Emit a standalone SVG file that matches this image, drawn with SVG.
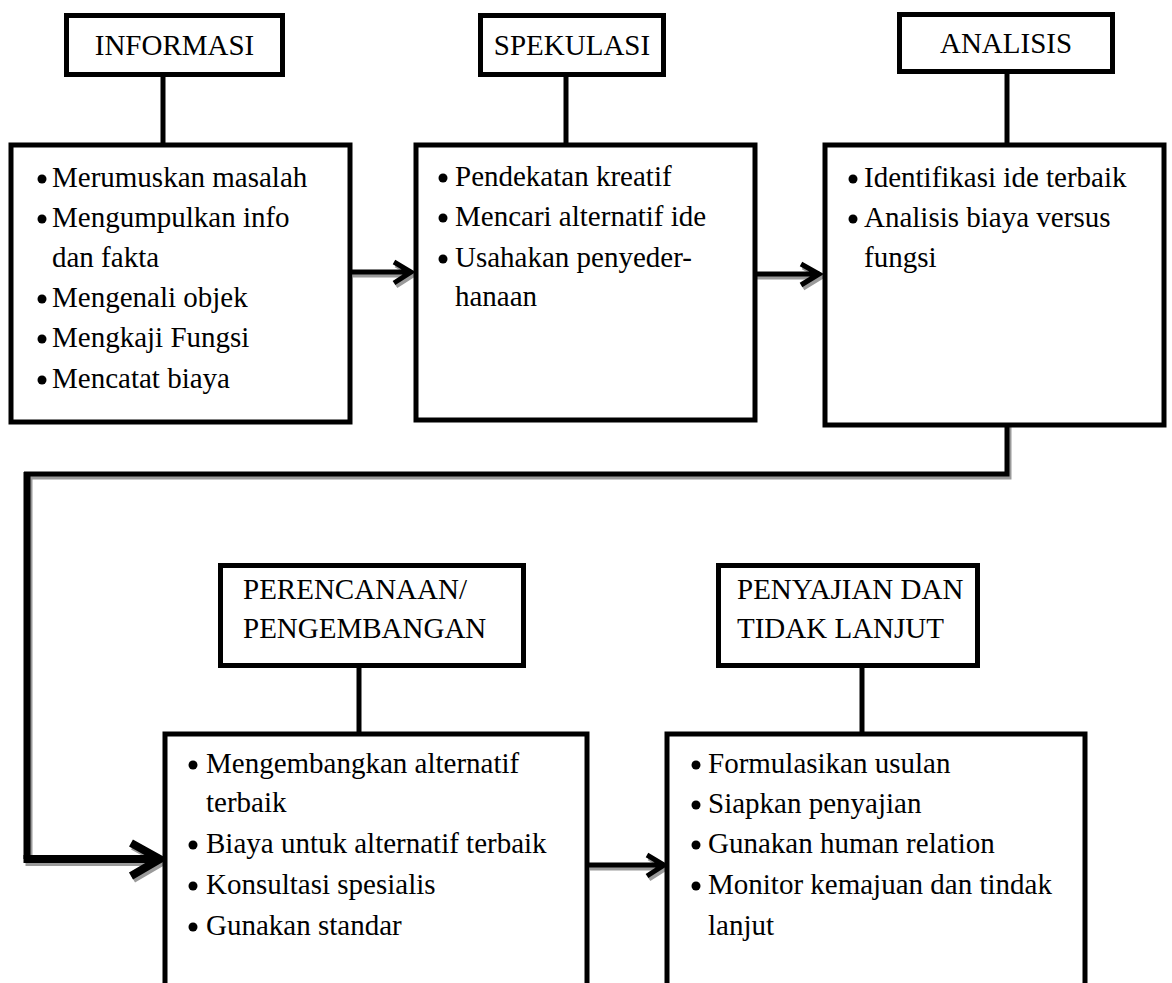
<svg xmlns="http://www.w3.org/2000/svg" width="1172" height="983" viewBox="0 0 1172 983">
<style>
.box{fill:#fff;stroke:#000;stroke-width:5}
.t{font-family:"Liberation Serif","Times New Roman",serif;font-size:29px;fill:#000}
.c{text-anchor:middle}
.ln{fill:none;stroke:#000;stroke-width:5}
.sh{fill:none;stroke:#9a9a9a;stroke-width:5}
.thk{stroke-width:8}
.mid{stroke-width:7}
</style>
<rect width="1172" height="983" fill="#fff"/>
<g id="connectors">
  <line class="ln" x1="163" y1="75" x2="163" y2="145"/>
  <line class="ln" x1="566" y1="75" x2="566" y2="145"/>
  <line class="ln" x1="1007" y1="71" x2="1007" y2="145"/>
  <line class="ln" x1="359" y1="666" x2="359" y2="734"/>
  <line class="ln" x1="862" y1="666" x2="862" y2="734"/>
  <g transform="translate(2,3)">
    <path class="sh" d="M351 272 H410 M394 262 L411 272 L394 283"/>
    <path class="sh" d="M755 274 H820 M801 264 L819 274 L801 285"/>
    <path class="sh" d="M1007 423 V474 H27"/>
    <path class="sh mid" d="M27 474 V859"/>
    <path class="sh thk" d="M23.5 859 H158 M131 843 L160 859 L131 876"/>
    <path class="sh" d="M588 865 H662 M647 855 L664 865 L647 876"/>
  </g>
  <path class="ln" d="M351 272 H410 M394 262 L411 272 L394 283"/>
  <path class="ln" d="M755 274 H820 M801 264 L819 274 L801 285"/>
  <path class="ln" d="M1007 423 V474 H24"/>
  <path class="ln mid" d="M27 472 V859"/>
  <path class="ln thk" d="M23.5 859 H158"/>
  <path class="ln thk" d="M131 843 L160 859 L131 876"/>
  <path class="ln" d="M588 865 H662 M647 855 L664 865 L647 876"/>
</g>
<g id="informasi-header">
  <rect class="box" x="66.5" y="15.5" width="216" height="59"/>
  <text class="t c" x="174.5" y="55">INFORMASI</text>
</g>
<g id="informasi">
  <rect class="box" x="11" y="145" width="339" height="277"/>
  <circle cx="42" cy="179" r="4.5"/><text class="t" x="52" y="187">Merumuskan masalah</text>
  <circle cx="42" cy="219" r="4.5"/><text class="t" x="52" y="227">Mengumpulkan info</text>
  <text class="t" x="52" y="267">dan fakta</text>
  <circle cx="42" cy="299" r="4.5"/><text class="t" x="52" y="307">Mengenali objek</text>
  <circle cx="42" cy="339" r="4.5"/><text class="t" x="52" y="347">Mengkaji Fungsi</text>
  <circle cx="42" cy="380" r="4.5"/><text class="t" x="52" y="388">Mencatat biaya</text>
</g>
<g id="spekulasi-header">
  <rect class="box" x="480.5" y="15.5" width="183" height="59"/>
  <text class="t c" x="572" y="55">SPEKULASI</text>
</g>
<g id="spekulasi">
  <rect class="box" x="416" y="145" width="339" height="275"/>
  <circle cx="443" cy="178" r="4.5"/><text class="t" x="455" y="186">Pendekatan kreatif</text>
  <circle cx="443" cy="218" r="4.5"/><text class="t" x="455" y="226">Mencari alternatif ide</text>
  <circle cx="443" cy="259" r="4.5"/><text class="t" x="455" y="267">Usahakan penyeder-</text>
  <text class="t" x="455" y="306">hanaan</text>
</g>
<g id="analisis-header">
  <rect class="box" x="899.5" y="14.5" width="213" height="57"/>
  <text class="t c" x="1006" y="53">ANALISIS</text>
</g>
<g id="analisis">
  <rect class="box" x="825" y="145" width="339" height="280"/>
  <circle cx="853" cy="179" r="4.5"/><text class="t" x="864" y="187">Identifikasi ide terbaik</text>
  <circle cx="853" cy="219" r="4.5"/><text class="t" x="864" y="227">Analisis biaya versus</text>
  <text class="t" x="864" y="267">fungsi</text>
</g>
<g id="perencanaan-header">
  <rect class="box" x="220.5" y="565.5" width="303" height="100"/>
  <text class="t" x="243" y="599">PERENCANAAN/</text>
  <text class="t" x="243" y="638">PENGEMBANGAN</text>
</g>
<g id="perencanaan">
  <rect class="box" x="165" y="734" width="422" height="300"/>
  <circle cx="193" cy="765" r="4.5"/><text class="t" x="206" y="773">Mengembangkan alternatif</text>
  <text class="t" x="206" y="812">terbaik</text>
  <circle cx="193" cy="845" r="4.5"/><text class="t" x="206" y="853">Biaya untuk alternatif terbaik</text>
  <circle cx="193" cy="886" r="4.5"/><text class="t" x="206" y="894">Konsultasi spesialis</text>
  <circle cx="193" cy="927" r="4.5"/><text class="t" x="206" y="935">Gunakan standar</text>
</g>
<g id="penyajian-header">
  <rect class="box" x="718.5" y="565.5" width="259" height="100"/>
  <text class="t" x="737" y="599">PENYAJIAN DAN</text>
  <text class="t" x="737" y="638">TIDAK LANJUT</text>
</g>
<g id="penyajian">
  <rect class="box" x="667" y="734" width="418" height="300"/>
  <circle cx="696" cy="765" r="4.5"/><text class="t" x="708" y="773">Formulasikan usulan</text>
  <circle cx="696" cy="805" r="4.5"/><text class="t" x="708" y="813">Siapkan penyajian</text>
  <circle cx="696" cy="845" r="4.5"/><text class="t" x="708" y="853">Gunakan human relation</text>
  <circle cx="696" cy="886" r="4.5"/><text class="t" x="708" y="894">Monitor kemajuan dan tindak</text>
  <text class="t" x="708" y="935">lanjut</text>
</g>
</svg>
